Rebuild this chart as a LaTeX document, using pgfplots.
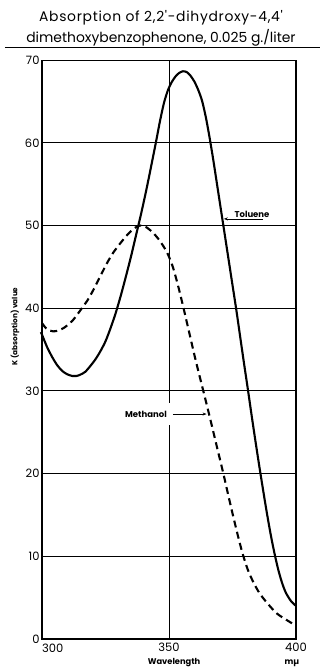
\documentclass[border=0pt]{standalone}
\usepackage{fontspec}
\newfontfamily\pop{Poppins}
\setmainfont{Poppins}
\usepackage{pgfplots}
\pgfplotsset{compat=1.18}
\usetikzlibrary{arrows.meta}
\pgfplotstableread{
w v
299.5 37.1
300 36.8
302 35.3
304 34.1
306 33.1
308 32.4
310 32.0
312 31.8
313.5 31.8
315 31.95
317 32.3
319 33.0
321 33.8
323 34.8
325 36.0
327 37.6
329 39.4
331 41.5
333 43.8
335 46.2
337 48.8
339 51.4
341 54.2
343 57.2
345 60.3
346.5 62.7
348 64.8
349.5 66.3
351 67.3
352.5 68.0
354 68.45
355.5 68.65
357 68.55
358.5 68.1
360 67.4
361.5 66.4
363 65.1
364.5 63.1
366 60.6
367.5 57.8
369 54.8
370.5 51.8
372 48.8
373.5 45.8
375 42.8
376.5 39.8
378 36.6
379.5 33.4
381 30.3
382.5 27.1
384 24.0
385.5 21.0
387 18.1
388.5 15.3
390 12.7
391.5 10.4
393 8.4
394.5 6.8
396 5.6
398 4.6
400 4.0
}\toluene
\pgfplotstableread{
w v
300 38.2
301.5 37.6
303 37.3
304.4 37.2
306.5 37.3
309 37.7
312.3 38.6
315.7 40.0
318 41.0
320.2 42.2
323 43.9
325.5 45.4
328 46.7
330.7 47.8
332.8 48.6
334.6 49.2
336.5 49.7
338.6 50.0
341 49.8
343.8 49.1
346.5 48.1
349.3 46.7
351.5 45.0
353.5 42.8
355.5 40.3
358 37.0
360.5 33.7
363.5 30.0
366 26.9
368.5 23.7
371.4 20.0
373.4 17.3
375.3 14.8
377.2 12.4
379 10.3
381 8.4
383 7.0
385.5 5.6
388.5 4.4
392.4 3.1
396.3 2.3
400 1.6
}\methanol
\begin{document}
\begin{tikzpicture}
\begin{axis}[
  x=2.54pt, y=8.27pt,
  scale only axis,
  xmin=300, xmax=400, ymin=0, ymax=70,
  axis line style={line width=1.1pt},
  xtick={300,350,400}, xticklabels={,350,400},
  ytick={0,10,...,70},
  grid=major, grid style={black, line width=0.8pt},
  major tick length=0pt,
  ticklabel style={font=\pop\fontsize{11.5}{12}\selectfont},
  /pgf/number format/assume math mode=true,
  xticklabel style={yshift=-1pt},
  yticklabel style={xshift=1pt},
  clip=false,
]
\addplot[black, line width=2.1pt, smooth, tension=0.45] table[x=w,y=v] {\toluene};
\addplot[black, line width=2.1pt, dash pattern=on 7pt off 4.5pt, smooth, tension=0.45] table[x=w,y=v] {\methanol};
% labels
\node[anchor=north west, font=\pop\fontsize{11.5}{12}\selectfont, inner sep=0pt] at (axis cs:300,-0.55) {300};
\node[font=\pop\addfontfeature{LetterSpace=5}\fontsize{13.9}{14}\selectfont] at (axis cs:346.85,75.09) {Absorption of 2,2'-dihydroxy-4,4'};
\node[font=\pop\fontsize{13.9}{14}\selectfont] at (axis cs:346.85,72.67) {dimethoxybenzophenone, 0.025 g./liter};
\draw[line width=1.2pt] (axis cs:285.4,71.5) -- (axis cs:409.45,71.5);
\node[rotate=90, font=\pop\bfseries\fontsize{7.3}{8}\selectfont] at (axis cs:289.4,37.8) {K (absorption) value};
\node[font=\pop\bfseries\fontsize{8.3}{9}\selectfont] at (axis cs:352,-2.9) {Wavelength};
\node[font=\pop\bfseries\fontsize{8.3}{9}\selectfont] at (axis cs:398.4,-2.9) {mµ};
\node[anchor=east, fill=white, inner xsep=4pt, inner ysep=8pt, font=\pop\bfseries\fontsize{8.5}{9}\selectfont] at (axis cs:350.8,27.2) {Methanol};
\draw[-{Stealth[length=4pt,width=3pt]}, line width=0.7pt] (axis cs:351.5,27.2) -- (axis cs:364.8,27.2);
\node[anchor=south west, inner sep=0.6pt, font=\pop\bfseries\fontsize{8.5}{9}\selectfont] at (axis cs:375.5,50.9) {Toluene};
\draw[-{Stealth[length=4pt,width=3pt]}, line width=0.7pt] (axis cs:387,50.8) -- (axis cs:371.6,50.8);
\coordinate (bl) at (axis cs:283.46,-3.63);
\coordinate (tr) at (axis cs:410.24,77.27);
\end{axis}
\pgfresetboundingbox
\path (bl) rectangle (tr);
\end{tikzpicture}
\end{document}
